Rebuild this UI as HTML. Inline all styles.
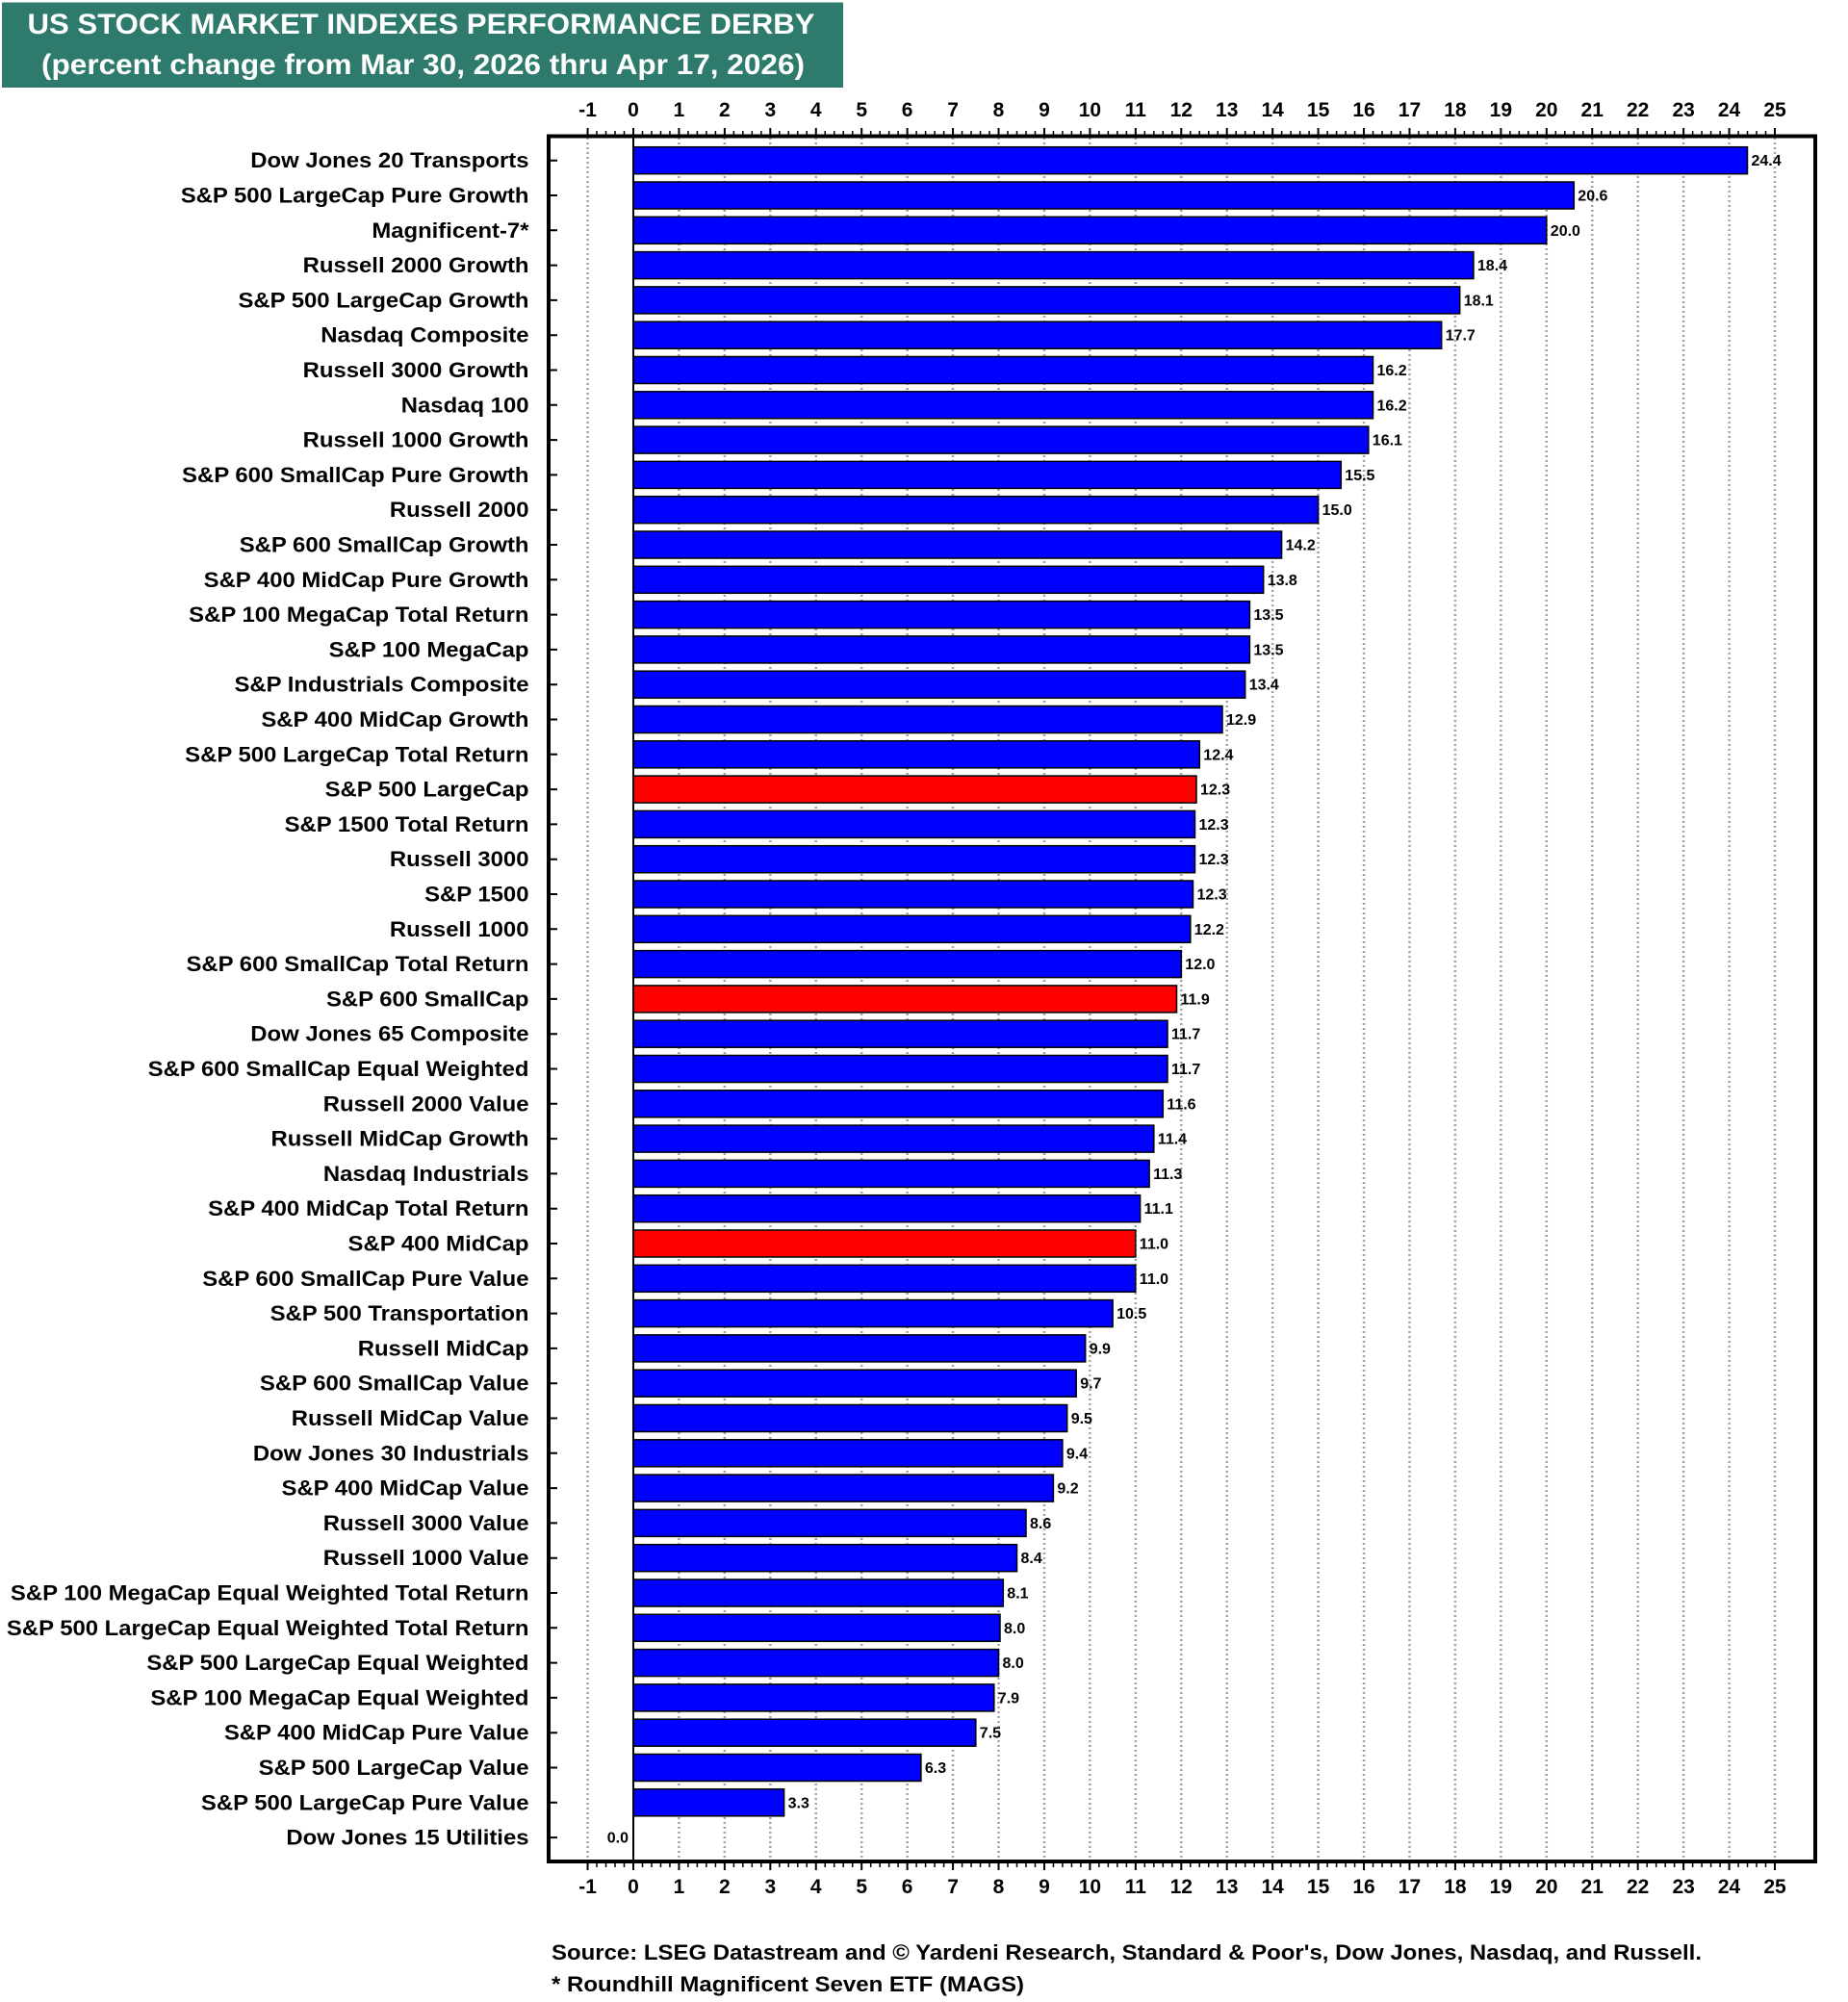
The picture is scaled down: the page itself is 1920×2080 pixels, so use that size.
<!DOCTYPE html>
<html><head><meta charset="utf-8"><style>
html,body{margin:0;padding:0;background:#fff}
svg{display:block}
text{font-family:"Liberation Sans",Arial,sans-serif;font-weight:bold;fill:#000}
.l{font-size:22.5px;text-anchor:end}
.v{font-size:16px}
.t{font-size:21px;text-anchor:middle}
.b{fill:#0000ff;stroke:#000;stroke-width:1.5}
.r{fill:#ff0000;stroke:#000;stroke-width:1.5}
</style></head><body>
<svg width="1920" height="2080" viewBox="0 0 1920 2080" xmlns="http://www.w3.org/2000/svg">
<rect width="1920" height="2080" fill="#fff"/>
<rect x="2" y="2.5" width="874" height="88.5" fill="#2e7b6d"/>
<text x="28.5" y="35" style="font-size:30px;fill:#fff" textLength="818" lengthAdjust="spacingAndGlyphs">US STOCK MARKET INDEXES PERFORMANCE DERBY</text>
<text x="43" y="77" style="font-size:30px;fill:#fff" textLength="793" lengthAdjust="spacingAndGlyphs">(percent change from Mar 30, 2026 thru Apr 17, 2026)</text>

<!-- gridlines -->
<path d="M610.56 143V1932M705.44 143V1932M752.88 143V1932M800.32 143V1932M847.76 143V1932M895.2 143V1932M942.64 143V1932M990.08 143V1932M1037.52 143V1932M1084.96 143V1932M1132.4 143V1932M1179.84 143V1932M1227.28 143V1932M1274.72 143V1932M1322.16 143V1932M1369.6 143V1932M1417.04 143V1932M1464.48 143V1932M1511.92 143V1932M1559.36 143V1932M1606.8 143V1932M1654.24 143V1932M1701.68 143V1932M1749.12 143V1932M1796.56 143V1932M1844 143V1932" stroke="#a3a3a3" stroke-width="2.5" stroke-dasharray="2 3" fill="none"/>

<!-- top ticks -->
<line x1="609.56" y1="137" x2="1846" y2="137" stroke="#000" stroke-width="8" stroke-dasharray="2 45.44"/>
<line x1="609.81" y1="138.5" x2="1846" y2="138.5" stroke="#000" stroke-width="5" stroke-dasharray="1.5 7.988"/>
<!-- bottom ticks -->
<line x1="609.56" y1="1938.5" x2="1846" y2="1938.5" stroke="#000" stroke-width="9" stroke-dasharray="2 45.44"/>
<line x1="609.81" y1="1937" x2="1846" y2="1937" stroke="#000" stroke-width="6" stroke-dasharray="1.5 7.988"/>

<!-- category ticks -->
<line x1="575.5" y1="165.7" x2="575.5" y2="1912" stroke="#000" stroke-width="7" stroke-dasharray="2 34.3"/>

<!-- bars -->
<g transform="translate(0,166.7)"><rect class="b" x="658" y="-14" width="1157.5" height="28"/><text class="v" x="1819.5" y="5.5">24.4</text><text class="l" transform="translate(549.5 7.5) scale(1.062 1)">Dow Jones 20 Transports</text></g>
<g transform="translate(0,203)"><rect class="b" x="658" y="-14" width="977.3" height="28"/><text class="v" x="1639.3" y="5.5">20.6</text><text class="l" transform="translate(549.5 7.5) scale(1.062 1)">S&amp;P 500 LargeCap Pure Growth</text></g>
<g transform="translate(0,239.3)"><rect class="b" x="658" y="-14" width="948.8" height="28"/><text class="v" x="1610.8" y="5.5">20.0</text><text class="l" transform="translate(549.5 7.5) scale(1.062 1)">Magnificent-7*</text></g>
<g transform="translate(0,275.6)"><rect class="b" x="658" y="-14" width="872.9" height="28"/><text class="v" x="1534.9" y="5.5">18.4</text><text class="l" transform="translate(549.5 7.5) scale(1.062 1)">Russell 2000 Growth</text></g>
<g transform="translate(0,311.9)"><rect class="b" x="658" y="-14" width="858.7" height="28"/><text class="v" x="1520.7" y="5.5">18.1</text><text class="l" transform="translate(549.5 7.5) scale(1.062 1)">S&amp;P 500 LargeCap Growth</text></g>
<g transform="translate(0,348.2)"><rect class="b" x="658" y="-14" width="839.7" height="28"/><text class="v" x="1501.7" y="5.5">17.7</text><text class="l" transform="translate(549.5 7.5) scale(1.062 1)">Nasdaq Composite</text></g>
<g transform="translate(0,384.5)"><rect class="b" x="658" y="-14" width="768.5" height="28"/><text class="v" x="1430.5" y="5.5">16.2</text><text class="l" transform="translate(549.5 7.5) scale(1.062 1)">Russell 3000 Growth</text></g>
<g transform="translate(0,420.8)"><rect class="b" x="658" y="-14" width="768.5" height="28"/><text class="v" x="1430.5" y="5.5">16.2</text><text class="l" transform="translate(549.5 7.5) scale(1.062 1)">Nasdaq 100</text></g>
<g transform="translate(0,457.1)"><rect class="b" x="658" y="-14" width="763.8" height="28"/><text class="v" x="1425.8" y="5.5">16.1</text><text class="l" transform="translate(549.5 7.5) scale(1.062 1)">Russell 1000 Growth</text></g>
<g transform="translate(0,493.4)"><rect class="b" x="658" y="-14" width="735.3" height="28"/><text class="v" x="1397.3" y="5.5">15.5</text><text class="l" transform="translate(549.5 7.5) scale(1.062 1)">S&amp;P 600 SmallCap Pure Growth</text></g>
<g transform="translate(0,529.7)"><rect class="b" x="658" y="-14" width="711.6" height="28"/><text class="v" x="1373.6" y="5.5">15.0</text><text class="l" transform="translate(549.5 7.5) scale(1.062 1)">Russell 2000</text></g>
<g transform="translate(0,566)"><rect class="b" x="658" y="-14" width="673.6" height="28"/><text class="v" x="1335.6" y="5.5">14.2</text><text class="l" transform="translate(549.5 7.5) scale(1.062 1)">S&amp;P 600 SmallCap Growth</text></g>
<g transform="translate(0,602.3)"><rect class="b" x="658" y="-14" width="654.7" height="28"/><text class="v" x="1316.7" y="5.5">13.8</text><text class="l" transform="translate(549.5 7.5) scale(1.062 1)">S&amp;P 400 MidCap Pure Growth</text></g>
<g transform="translate(0,638.6)"><rect class="b" x="658" y="-14" width="640.4" height="28"/><text class="v" x="1302.4" y="5.5">13.5</text><text class="l" transform="translate(549.5 7.5) scale(1.062 1)">S&amp;P 100 MegaCap Total Return</text></g>
<g transform="translate(0,674.9)"><rect class="b" x="658" y="-14" width="640.4" height="28"/><text class="v" x="1302.4" y="5.5">13.5</text><text class="l" transform="translate(549.5 7.5) scale(1.062 1)">S&amp;P 100 MegaCap</text></g>
<g transform="translate(0,711.2)"><rect class="b" x="658" y="-14" width="635.7" height="28"/><text class="v" x="1297.7" y="5.5">13.4</text><text class="l" transform="translate(549.5 7.5) scale(1.062 1)">S&amp;P Industrials Composite</text></g>
<g transform="translate(0,747.5)"><rect class="b" x="658" y="-14" width="612" height="28"/><text class="v" x="1274" y="5.5">12.9</text><text class="l" transform="translate(549.5 7.5) scale(1.062 1)">S&amp;P 400 MidCap Growth</text></g>
<g transform="translate(0,783.8)"><rect class="b" x="658" y="-14" width="588.3" height="28"/><text class="v" x="1250.3" y="5.5">12.4</text><text class="l" transform="translate(549.5 7.5) scale(1.062 1)">S&amp;P 500 LargeCap Total Return</text></g>
<g transform="translate(0,820.1)"><rect class="r" x="658" y="-14" width="585" height="28"/><text class="v" x="1247" y="5.5">12.3</text><text class="l" transform="translate(549.5 7.5) scale(1.062 1)">S&amp;P 500 LargeCap</text></g>
<g transform="translate(0,856.4)"><rect class="b" x="658" y="-14" width="583.5" height="28"/><text class="v" x="1245.5" y="5.5">12.3</text><text class="l" transform="translate(549.5 7.5) scale(1.062 1)">S&amp;P 1500 Total Return</text></g>
<g transform="translate(0,892.7)"><rect class="b" x="658" y="-14" width="583.5" height="28"/><text class="v" x="1245.5" y="5.5">12.3</text><text class="l" transform="translate(549.5 7.5) scale(1.062 1)">Russell 3000</text></g>
<g transform="translate(0,929)"><rect class="b" x="658" y="-14" width="581.5" height="28"/><text class="v" x="1243.5" y="5.5">12.3</text><text class="l" transform="translate(549.5 7.5) scale(1.062 1)">S&amp;P 1500</text></g>
<g transform="translate(0,965.3)"><rect class="b" x="658" y="-14" width="578.8" height="28"/><text class="v" x="1240.8" y="5.5">12.2</text><text class="l" transform="translate(549.5 7.5) scale(1.062 1)">Russell 1000</text></g>
<g transform="translate(0,1001.6)"><rect class="b" x="658" y="-14" width="569.3" height="28"/><text class="v" x="1231.3" y="5.5">12.0</text><text class="l" transform="translate(549.5 7.5) scale(1.062 1)">S&amp;P 600 SmallCap Total Return</text></g>
<g transform="translate(0,1037.9)"><rect class="r" x="658" y="-14" width="564.5" height="28"/><text class="v" x="1226.5" y="5.5">11.9</text><text class="l" transform="translate(549.5 7.5) scale(1.062 1)">S&amp;P 600 SmallCap</text></g>
<g transform="translate(0,1074.2)"><rect class="b" x="658" y="-14" width="555" height="28"/><text class="v" x="1217" y="5.5">11.7</text><text class="l" transform="translate(549.5 7.5) scale(1.062 1)">Dow Jones 65 Composite</text></g>
<g transform="translate(0,1110.5)"><rect class="b" x="658" y="-14" width="555" height="28"/><text class="v" x="1217" y="5.5">11.7</text><text class="l" transform="translate(549.5 7.5) scale(1.062 1)">S&amp;P 600 SmallCap Equal Weighted</text></g>
<g transform="translate(0,1146.8)"><rect class="b" x="658" y="-14" width="550.3" height="28"/><text class="v" x="1212.3" y="5.5">11.6</text><text class="l" transform="translate(549.5 7.5) scale(1.062 1)">Russell 2000 Value</text></g>
<g transform="translate(0,1183.1)"><rect class="b" x="658" y="-14" width="540.8" height="28"/><text class="v" x="1202.8" y="5.5">11.4</text><text class="l" transform="translate(549.5 7.5) scale(1.062 1)">Russell MidCap Growth</text></g>
<g transform="translate(0,1219.4)"><rect class="b" x="658" y="-14" width="536.1" height="28"/><text class="v" x="1198.1" y="5.5">11.3</text><text class="l" transform="translate(549.5 7.5) scale(1.062 1)">Nasdaq Industrials</text></g>
<g transform="translate(0,1255.7)"><rect class="b" x="658" y="-14" width="526.6" height="28"/><text class="v" x="1188.6" y="5.5">11.1</text><text class="l" transform="translate(549.5 7.5) scale(1.062 1)">S&amp;P 400 MidCap Total Return</text></g>
<g transform="translate(0,1292)"><rect class="r" x="658" y="-14" width="521.8" height="28"/><text class="v" x="1183.8" y="5.5">11.0</text><text class="l" transform="translate(549.5 7.5) scale(1.062 1)">S&amp;P 400 MidCap</text></g>
<g transform="translate(0,1328.3)"><rect class="b" x="658" y="-14" width="521.8" height="28"/><text class="v" x="1183.8" y="5.5">11.0</text><text class="l" transform="translate(549.5 7.5) scale(1.062 1)">S&amp;P 600 SmallCap Pure Value</text></g>
<g transform="translate(0,1364.6)"><rect class="b" x="658" y="-14" width="498.1" height="28"/><text class="v" x="1160.1" y="5.5">10.5</text><text class="l" transform="translate(549.5 7.5) scale(1.062 1)">S&amp;P 500 Transportation</text></g>
<g transform="translate(0,1400.9)"><rect class="b" x="658" y="-14" width="469.7" height="28"/><text class="v" x="1131.7" y="5.5">9.9</text><text class="l" transform="translate(549.5 7.5) scale(1.062 1)">Russell MidCap</text></g>
<g transform="translate(0,1437.2)"><rect class="b" x="658" y="-14" width="460.2" height="28"/><text class="v" x="1122.2" y="5.5">9.7</text><text class="l" transform="translate(549.5 7.5) scale(1.062 1)">S&amp;P 600 SmallCap Value</text></g>
<g transform="translate(0,1473.5)"><rect class="b" x="658" y="-14" width="450.7" height="28"/><text class="v" x="1112.7" y="5.5">9.5</text><text class="l" transform="translate(549.5 7.5) scale(1.062 1)">Russell MidCap Value</text></g>
<g transform="translate(0,1509.8)"><rect class="b" x="658" y="-14" width="445.9" height="28"/><text class="v" x="1107.9" y="5.5">9.4</text><text class="l" transform="translate(549.5 7.5) scale(1.062 1)">Dow Jones 30 Industrials</text></g>
<g transform="translate(0,1546.1)"><rect class="b" x="658" y="-14" width="436.4" height="28"/><text class="v" x="1098.4" y="5.5">9.2</text><text class="l" transform="translate(549.5 7.5) scale(1.062 1)">S&amp;P 400 MidCap Value</text></g>
<g transform="translate(0,1582.4)"><rect class="b" x="658" y="-14" width="408" height="28"/><text class="v" x="1070" y="5.5">8.6</text><text class="l" transform="translate(549.5 7.5) scale(1.062 1)">Russell 3000 Value</text></g>
<g transform="translate(0,1618.7)"><rect class="b" x="658" y="-14" width="398.5" height="28"/><text class="v" x="1060.5" y="5.5">8.4</text><text class="l" transform="translate(549.5 7.5) scale(1.062 1)">Russell 1000 Value</text></g>
<g transform="translate(0,1655)"><rect class="b" x="658" y="-14" width="384.3" height="28"/><text class="v" x="1046.3" y="5.5">8.1</text><text class="l" transform="translate(549.5 7.5) scale(1.062 1)">S&amp;P 100 MegaCap Equal Weighted Total Return</text></g>
<g transform="translate(0,1691.3)"><rect class="b" x="658" y="-14" width="381" height="28"/><text class="v" x="1043" y="5.5">8.0</text><text class="l" transform="translate(549.5 7.5) scale(1.062 1)">S&amp;P 500 LargeCap Equal Weighted Total Return</text></g>
<g transform="translate(0,1727.6)"><rect class="b" x="658" y="-14" width="379.5" height="28"/><text class="v" x="1041.5" y="5.5">8.0</text><text class="l" transform="translate(549.5 7.5) scale(1.062 1)">S&amp;P 500 LargeCap Equal Weighted</text></g>
<g transform="translate(0,1763.9)"><rect class="b" x="658" y="-14" width="374.8" height="28"/><text class="v" x="1036.8" y="5.5">7.9</text><text class="l" transform="translate(549.5 7.5) scale(1.062 1)">S&amp;P 100 MegaCap Equal Weighted</text></g>
<g transform="translate(0,1800.2)"><rect class="b" x="658" y="-14" width="355.8" height="28"/><text class="v" x="1017.8" y="5.5">7.5</text><text class="l" transform="translate(549.5 7.5) scale(1.062 1)">S&amp;P 400 MidCap Pure Value</text></g>
<g transform="translate(0,1836.5)"><rect class="b" x="658" y="-14" width="298.9" height="28"/><text class="v" x="960.9" y="5.5">6.3</text><text class="l" transform="translate(549.5 7.5) scale(1.062 1)">S&amp;P 500 LargeCap Value</text></g>
<g transform="translate(0,1872.8)"><rect class="b" x="658" y="-14" width="156.6" height="28"/><text class="v" x="818.6" y="5.5">3.3</text><text class="l" transform="translate(549.5 7.5) scale(1.062 1)">S&amp;P 500 LargeCap Pure Value</text></g>
<g transform="translate(0,1909.1)"><text class="v" x="653" y="5.5" text-anchor="end">0.0</text><text class="l" transform="translate(549.5 7.5) scale(1.062 1)">Dow Jones 15 Utilities</text></g>

<!-- zero line -->
<line x1="658" y1="142" x2="658" y2="1933" stroke="#000" stroke-width="2"/>
<!-- frame -->
<rect x="570" y="141.5" width="1316" height="1792.5" fill="none" stroke="#000" stroke-width="4"/>

<!-- tick labels top -->
<g>
<text class="t" x="610.56" y="121">-1</text><text class="t" x="658" y="121">0</text><text class="t" x="705.44" y="121">1</text><text class="t" x="752.88" y="121">2</text><text class="t" x="800.32" y="121">3</text><text class="t" x="847.76" y="121">4</text><text class="t" x="895.2" y="121">5</text><text class="t" x="942.64" y="121">6</text><text class="t" x="990.08" y="121">7</text><text class="t" x="1037.52" y="121">8</text><text class="t" x="1084.96" y="121">9</text><text class="t" x="1132.4" y="121">10</text><text class="t" x="1179.84" y="121">11</text><text class="t" x="1227.28" y="121">12</text><text class="t" x="1274.72" y="121">13</text><text class="t" x="1322.16" y="121">14</text><text class="t" x="1369.6" y="121">15</text><text class="t" x="1417.04" y="121">16</text><text class="t" x="1464.48" y="121">17</text><text class="t" x="1511.92" y="121">18</text><text class="t" x="1559.36" y="121">19</text><text class="t" x="1606.8" y="121">20</text><text class="t" x="1654.24" y="121">21</text><text class="t" x="1701.68" y="121">22</text><text class="t" x="1749.12" y="121">23</text><text class="t" x="1796.56" y="121">24</text><text class="t" x="1844" y="121">25</text>
</g>
<!-- tick labels bottom -->
<g>
<text class="t" x="610.56" y="1967">-1</text><text class="t" x="658" y="1967">0</text><text class="t" x="705.44" y="1967">1</text><text class="t" x="752.88" y="1967">2</text><text class="t" x="800.32" y="1967">3</text><text class="t" x="847.76" y="1967">4</text><text class="t" x="895.2" y="1967">5</text><text class="t" x="942.64" y="1967">6</text><text class="t" x="990.08" y="1967">7</text><text class="t" x="1037.52" y="1967">8</text><text class="t" x="1084.96" y="1967">9</text><text class="t" x="1132.4" y="1967">10</text><text class="t" x="1179.84" y="1967">11</text><text class="t" x="1227.28" y="1967">12</text><text class="t" x="1274.72" y="1967">13</text><text class="t" x="1322.16" y="1967">14</text><text class="t" x="1369.6" y="1967">15</text><text class="t" x="1417.04" y="1967">16</text><text class="t" x="1464.48" y="1967">17</text><text class="t" x="1511.92" y="1967">18</text><text class="t" x="1559.36" y="1967">19</text><text class="t" x="1606.8" y="1967">20</text><text class="t" x="1654.24" y="1967">21</text><text class="t" x="1701.68" y="1967">22</text><text class="t" x="1749.12" y="1967">23</text><text class="t" x="1796.56" y="1967">24</text><text class="t" x="1844" y="1967">25</text>
</g>

<!-- source -->
<text x="573" y="2036" style="font-size:22px" textLength="1195" lengthAdjust="spacingAndGlyphs">Source: LSEG Datastream and © Yardeni Research, Standard &amp; Poor's, Dow Jones, Nasdaq, and Russell.</text>
<text x="573" y="2069" style="font-size:22px" textLength="491" lengthAdjust="spacingAndGlyphs">* Roundhill Magnificent Seven ETF (MAGS)</text>
</svg>
</body></html>
